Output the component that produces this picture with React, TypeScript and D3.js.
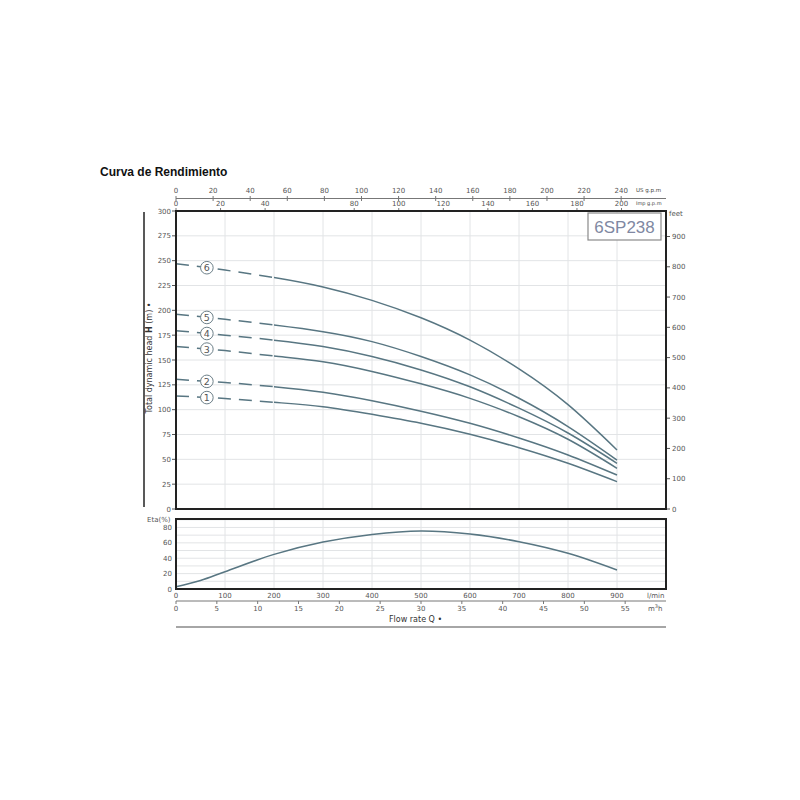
import React from 'react';
import * as d3 from 'd3';

// flow points (l/min) used for all curves
const flowLmin = [0, 100, 200, 300, 400, 500, 600, 700, 800, 900];

// head (m) per stage curve
const head1 = [113.8, 111.2, 107.4, 103, 95.3, 86.3, 75.2, 61.7, 46, 27.5];
const head2 = [130.5, 127.3, 123.1, 117.5, 109, 98.5, 86.3, 71.5, 54.4, 34.2];
const head3 = [163.5, 159.5, 154, 148.3, 138.5, 126, 111.4, 92.9, 70.2, 41];
const head4 = [179.5, 175, 170, 163.5, 153.5, 140, 123, 101.5, 76.5, 46];
const head5 = [196, 191, 185.2, 178.5, 168.5, 153.5, 135, 111.5, 83, 49.3];
const head6 = [247, 240.5, 233, 223.5, 210, 192.5, 170, 141, 105, 59.4];
const curveLabels = ['1', '2', '3', '4', '5', '6'];

// efficiency curve
const etaFlow = [0, 50, 100, 200, 300, 400, 500, 600, 700, 800, 900];
const etaValues = [3, 11, 22.5, 45, 61, 71, 75.4, 71.5, 61.5, 46.4, 24.7];

// axis tick labels
const headTicks = [0, 25, 50, 75, 100, 125, 150, 175, 200, 225, 250, 275, 300];
const feetTicks = [0, 100, 200, 300, 400, 500, 600, 700, 800, 900];
const usGpmTicks = [0, 20, 40, 60, 80, 100, 120, 140, 160, 180, 200, 220, 240];
const impGpmTicks = [0, 20, 40, 80, 100, 120, 140, 160, 180, 200];
const lminTicks = [0, 100, 200, 300, 400, 500, 600, 700, 800, 900];
const m3hTicks = [0, 5, 10, 15, 20, 25, 30, 35, 40, 45, 50, 55];
const etaTicks = [0, 20, 40, 60, 80];

const DASH_END = 200; // l/min, curves dashed below this
const LABEL_Q = 63; // l/min, position of numbered circles

const FONT = '"DejaVu Sans", Verdana, sans-serif';
const LINE = '#587682';
const GRID = '#e2e4e6';

export default function App() {
  const x = d3.scaleLinear().domain([0, 1000]).range([176, 666]);
  const y = d3.scaleLinear().domain([0, 300]).range([509, 211]);
  const yFeet = d3.scaleLinear().domain([0, 300 / 0.3048]).range([509, 211]);
  const xUs = d3.scaleLinear().domain([0, 1000 / 3.78541]).range([176, 666]);
  const xImp = d3.scaleLinear().domain([0, 1000 / 4.54609]).range([176, 666]);
  const xM3h = d3.scaleLinear().domain([0, 60]).range([176, 666]);
  const yEta = d3.scaleLinear().domain([0, 91]).range([589, 519]);

  const heads = [head1, head2, head3, head4, head5, head6];

  const line = d3
    .line<[number, number]>()
    .x((d) => x(d[0]))
    .y((d) => y(d[1]))
    .curve(d3.curveNatural);

  const etaLine = d3
    .line<[number, number]>()
    .x((d) => x(d[0]))
    .y((d) => yEta(d[1]))
    .curve(d3.curveCatmullRom);

  const gridX = d3.range(100, 1000, 100);
  const gridY = d3.range(25, 300, 25);
  const gridEta = d3.range(10, 91, 10);

  const tickText = { fontFamily: FONT, fontSize: 7, fill: '#555' } as const;

  return (
    <svg
      width={800}
      height={800}
      style={{ position: 'absolute', left: 0, top: 0, background: '#fff' }}
    >
      <defs>
        <clipPath id="dashPart">
          <rect x={170} y={200} width={x(DASH_END) - 170} height={320} />
        </clipPath>
        <clipPath id="solidPart">
          <rect x={x(DASH_END)} y={200} width={700 - x(DASH_END)} height={320} />
        </clipPath>
      </defs>

      <text x={100} y={176} fontFamily='"Liberation Sans", Arial, sans-serif' fontWeight="bold" fontSize={12} fill="#111">
        Curva de Rendimiento
      </text>

      {/* top axes: US g.p.m and Imp g.p.m */}
      <line x1={176} x2={666} y1={198.5} y2={198.5} stroke="#777" strokeWidth={1} />
      {usGpmTicks.map((t) => (
        <g key={'us' + t}>
          <line x1={xUs(t)} x2={xUs(t)} y1={196} y2={201} stroke="#777" />
          <text x={xUs(t)} y={193} textAnchor="middle" {...tickText}>{t}</text>
        </g>
      ))}
      <text x={636} y={192} fontFamily={FONT} fontSize={5.5} fill="#444">US g.p.m</text>
      {impGpmTicks.map((t) => (
        <g key={'imp' + t}>
          <line x1={xImp(t)} x2={xImp(t)} y1={208} y2={211} stroke="#777" />
          <text x={xImp(t)} y={206} textAnchor="middle" {...tickText}>{t}</text>
        </g>
      ))}
      <text x={636} y={205} fontFamily={FONT} fontSize={5} fill="#444">Imp g.p.m</text>

      {/* main grid */}
      {gridX.map((q) => (
        <line key={'gx' + q} x1={x(q)} x2={x(q)} y1={211} y2={509} stroke={GRID} />
      ))}
      {gridY.map((h) => (
        <line key={'gy' + h} x1={176} x2={666} y1={y(h)} y2={y(h)} stroke={GRID} />
      ))}

      {/* left axis */}
      <line x1={144} x2={144} y1={212} y2={507} stroke="#222" strokeWidth={1.5} />
      {headTicks.map((t) => (
        <g key={'h' + t}>
          <line x1={172} x2={176} y1={y(t)} y2={y(t)} stroke="#555" />
          <text x={171} y={y(t) + 2.5} textAnchor="end" {...tickText}>{t}</text>
        </g>
      ))}
      <text
        transform="translate(152,358) rotate(-90)"
        textAnchor="middle"
        fontFamily={FONT}
        fontSize={8}
        fill="#333"
      >
        Total dynamic head <tspan fontWeight="bold">H</tspan> (m)  •
      </text>

      {/* right axis (feet) */}
      {feetTicks.map((t) => (
        <g key={'f' + t}>
          <line x1={666} x2={670} y1={yFeet(t)} y2={yFeet(t)} stroke="#555" />
          <text x={672} y={yFeet(t) + 2.5} {...tickText}>{t}</text>
        </g>
      ))}
      <text x={669} y={216} {...tickText}>feet</text>

      {/* model label */}
      <rect x={588} y={213} width={73} height={27} fill="#fff" stroke="#8a8a8a" strokeWidth={1.2} />
      <text x={624.5} y={233} textAnchor="middle" fontFamily='"Liberation Sans", Arial, sans-serif' fontSize={17} fill="#8088a2">
        6SP238
      </text>

      {/* head curves */}
      {heads.map((h, i) => {
        const pts = flowLmin.map((q, j) => [q, h[j]] as [number, number]);
        const d = line(pts) || '';
        const hl = d3.scaleLinear().domain(flowLmin).range(h)(LABEL_Q);
        return (
          <g key={'c' + i}>
            <path d={d} clipPath="url(#dashPart)" fill="none" stroke={LINE} strokeWidth={1.5} strokeDasharray="13 8" />
            <path d={d} clipPath="url(#solidPart)" fill="none" stroke={LINE} strokeWidth={1.5} />
            <circle cx={x(LABEL_Q)} cy={y(hl)} r={6.3} fill="#fff" stroke="#6c7f88" strokeWidth={1} />
            <text x={x(LABEL_Q)} y={y(hl) + 3.5} textAnchor="middle" fontFamily={FONT} fontSize={9.5} fill="#555">
              {curveLabels[i]}
            </text>
          </g>
        );
      })}

      <rect x={176} y={211} width={490} height={298} fill="none" stroke="#222" strokeWidth={2} />

      {/* efficiency panel */}
      {gridX.map((q) => (
        <line key={'ex' + q} x1={x(q)} x2={x(q)} y1={519} y2={589} stroke={GRID} />
      ))}
      {gridEta.map((e) => (
        <line key={'ey' + e} x1={176} x2={666} y1={yEta(e)} y2={yEta(e)} stroke={GRID} />
      ))}
      <path
        d={etaLine(etaFlow.map((q, j) => [q, etaValues[j]] as [number, number])) || ''}
        fill="none"
        stroke={LINE}
        strokeWidth={1.5}
      />
      <rect x={176} y={519} width={490} height={70} fill="none" stroke="#222" strokeWidth={2} />
      <text x={147} y={522} {...tickText}>Eta(%)</text>
      {etaTicks.map((t) => (
        <text key={'e' + t} x={172} y={yEta(t) + 2.5} textAnchor="end" {...tickText}>{t}</text>
      ))}

      {/* bottom axes */}
      {lminTicks.map((t) => (
        <text key={'l' + t} x={x(t)} y={598} textAnchor="middle" {...tickText}>{t}</text>
      ))}
      <text x={647} y={598} {...tickText}>l/min</text>
      <line x1={176} x2={666} y1={601} y2={601} stroke="#777" />
      {m3hTicks.map((t) => (
        <g key={'m' + t}>
          <line x1={xM3h(t)} x2={xM3h(t)} y1={601} y2={604} stroke="#777" />
          <text x={xM3h(t)} y={611} textAnchor="middle" {...tickText}>{t}</text>
        </g>
      ))}
      <text x={648} y={611} {...tickText}>
        m<tspan fontSize={5} dy={-3}>3</tspan><tspan dy={3}>h</tspan>
      </text>
      <text x={389} y={622} fontFamily={FONT} fontSize={8} fill="#333">
        Flow rate  Q  •
      </text>
      <line x1={176} x2={666} y1={627} y2={627} stroke="#888" strokeWidth={1.5} />
    </svg>
  );
}
